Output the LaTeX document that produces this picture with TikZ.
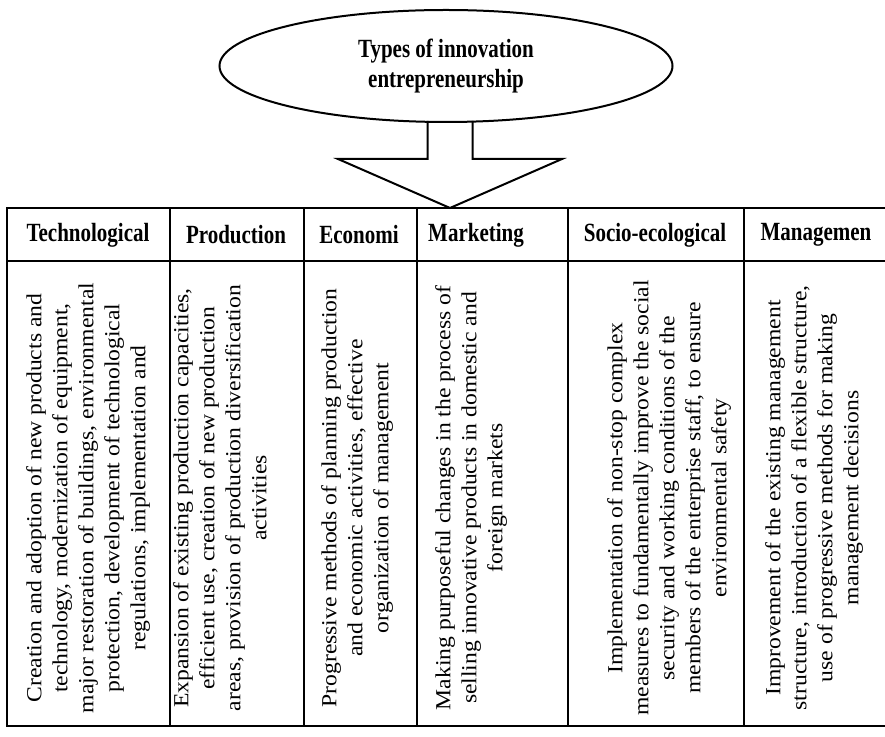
\documentclass[tikz,border=0pt]{standalone}
\usepackage{fontspec}
\usepackage{graphicx}
\usetikzlibrary{shapes.geometric}
\newfontfamily\headfont{Liberation Serif}
\newfontfamily\bodyfont[FakeStretch=1.1]{Liberation Serif}
\newcommand{\tallbf}[1]{\scalebox{1}[1.25]{\headfont\bfseries #1}}

\begin{document}
\begin{tikzpicture}[x=1pt,y=1pt,
  line/.style={draw=black,line width=2pt,line join=miter},
  frame/.style={draw=black,line width=2.5pt},
  head/.style={font=\fontsize{21}{30}\selectfont,inner sep=0pt},
  body/.style={rotate=90,align=center,inner sep=0pt,font=\bodyfont\fontsize{21.5}{26}\selectfont},
]
\useasboundingbox (0,0) rectangle (885,736);
\clip (0,0) rectangle (885,736);

\node[line,ellipse,minimum width=453,minimum height=112,align=center,head] (ell) at (446,670)
  {\tallbf{Types of innovation}\\\tallbf{entrepreneurship}};

\coordinate (tip) at (450,528);
\draw[line] (tip) ++(-22.5,87) -- ++(0,-38) -- ++(-89.5,0) -- (tip)
  -- ++(112,49) -- ++(-89.5,0) -- ++(0,38);

% table, right edge runs off the page
\draw[frame] (7,10) rectangle (888,528);
\draw[frame] (7,475) -- (888,475);
\foreach \x in {170,304,417,568,744}
  \draw[frame] (\x,10) -- (\x,528);

\node[head] (h1) at (88,501) {\tallbf{Technological}};
\node[head] (h2) at (236,501) {\tallbf{Production}};
\node[head] (h3) at (359,501) {\tallbf{Economi}};
\node[head] (h4) at (476,501) {\tallbf{Marketing}};
\node[head] (h5) at (655,501) {\tallbf{Socio-ecological}};
\node[head] (h6) at (816,501) {\tallbf{Managemen}};

\node[body] (b1) at (88,238) {Creation and adoption of new products and\\
  technology, modernization of equipment,\\
  major restoration of buildings, environmental\\
  protection, development of technological\\
  regulations, implementation and};
\node[body] (b2) at (220,238) {Expansion of existing production capacities,\\
  efficient use, creation of new production\\
  areas, provision of production diversification\\
  activities};
\node[body] (b3) at (357,238) {Progressive methods of planning production\\
  and economic activities, effective\\
  organization of management};
\node[body] (b4) at (471,238) {Making purposeful changes in the process of\\
  selling innovative products in domestic and\\
  foreign markets};
\node[body] (b5) at (669,238) {Implementation of non-stop complex\\
  measures to fundamentally improve the social\\
  security and working conditions of the\\
  members of the enterprise staff, to ensure\\
  environmental safety};
\node[body] (b6) at (814,238) {Improvement of the existing management\\
  structure, introduction of a flexible structure,\\
  use of progressive methods for making\\
  management decisions};

\end{tikzpicture}
\end{document}
